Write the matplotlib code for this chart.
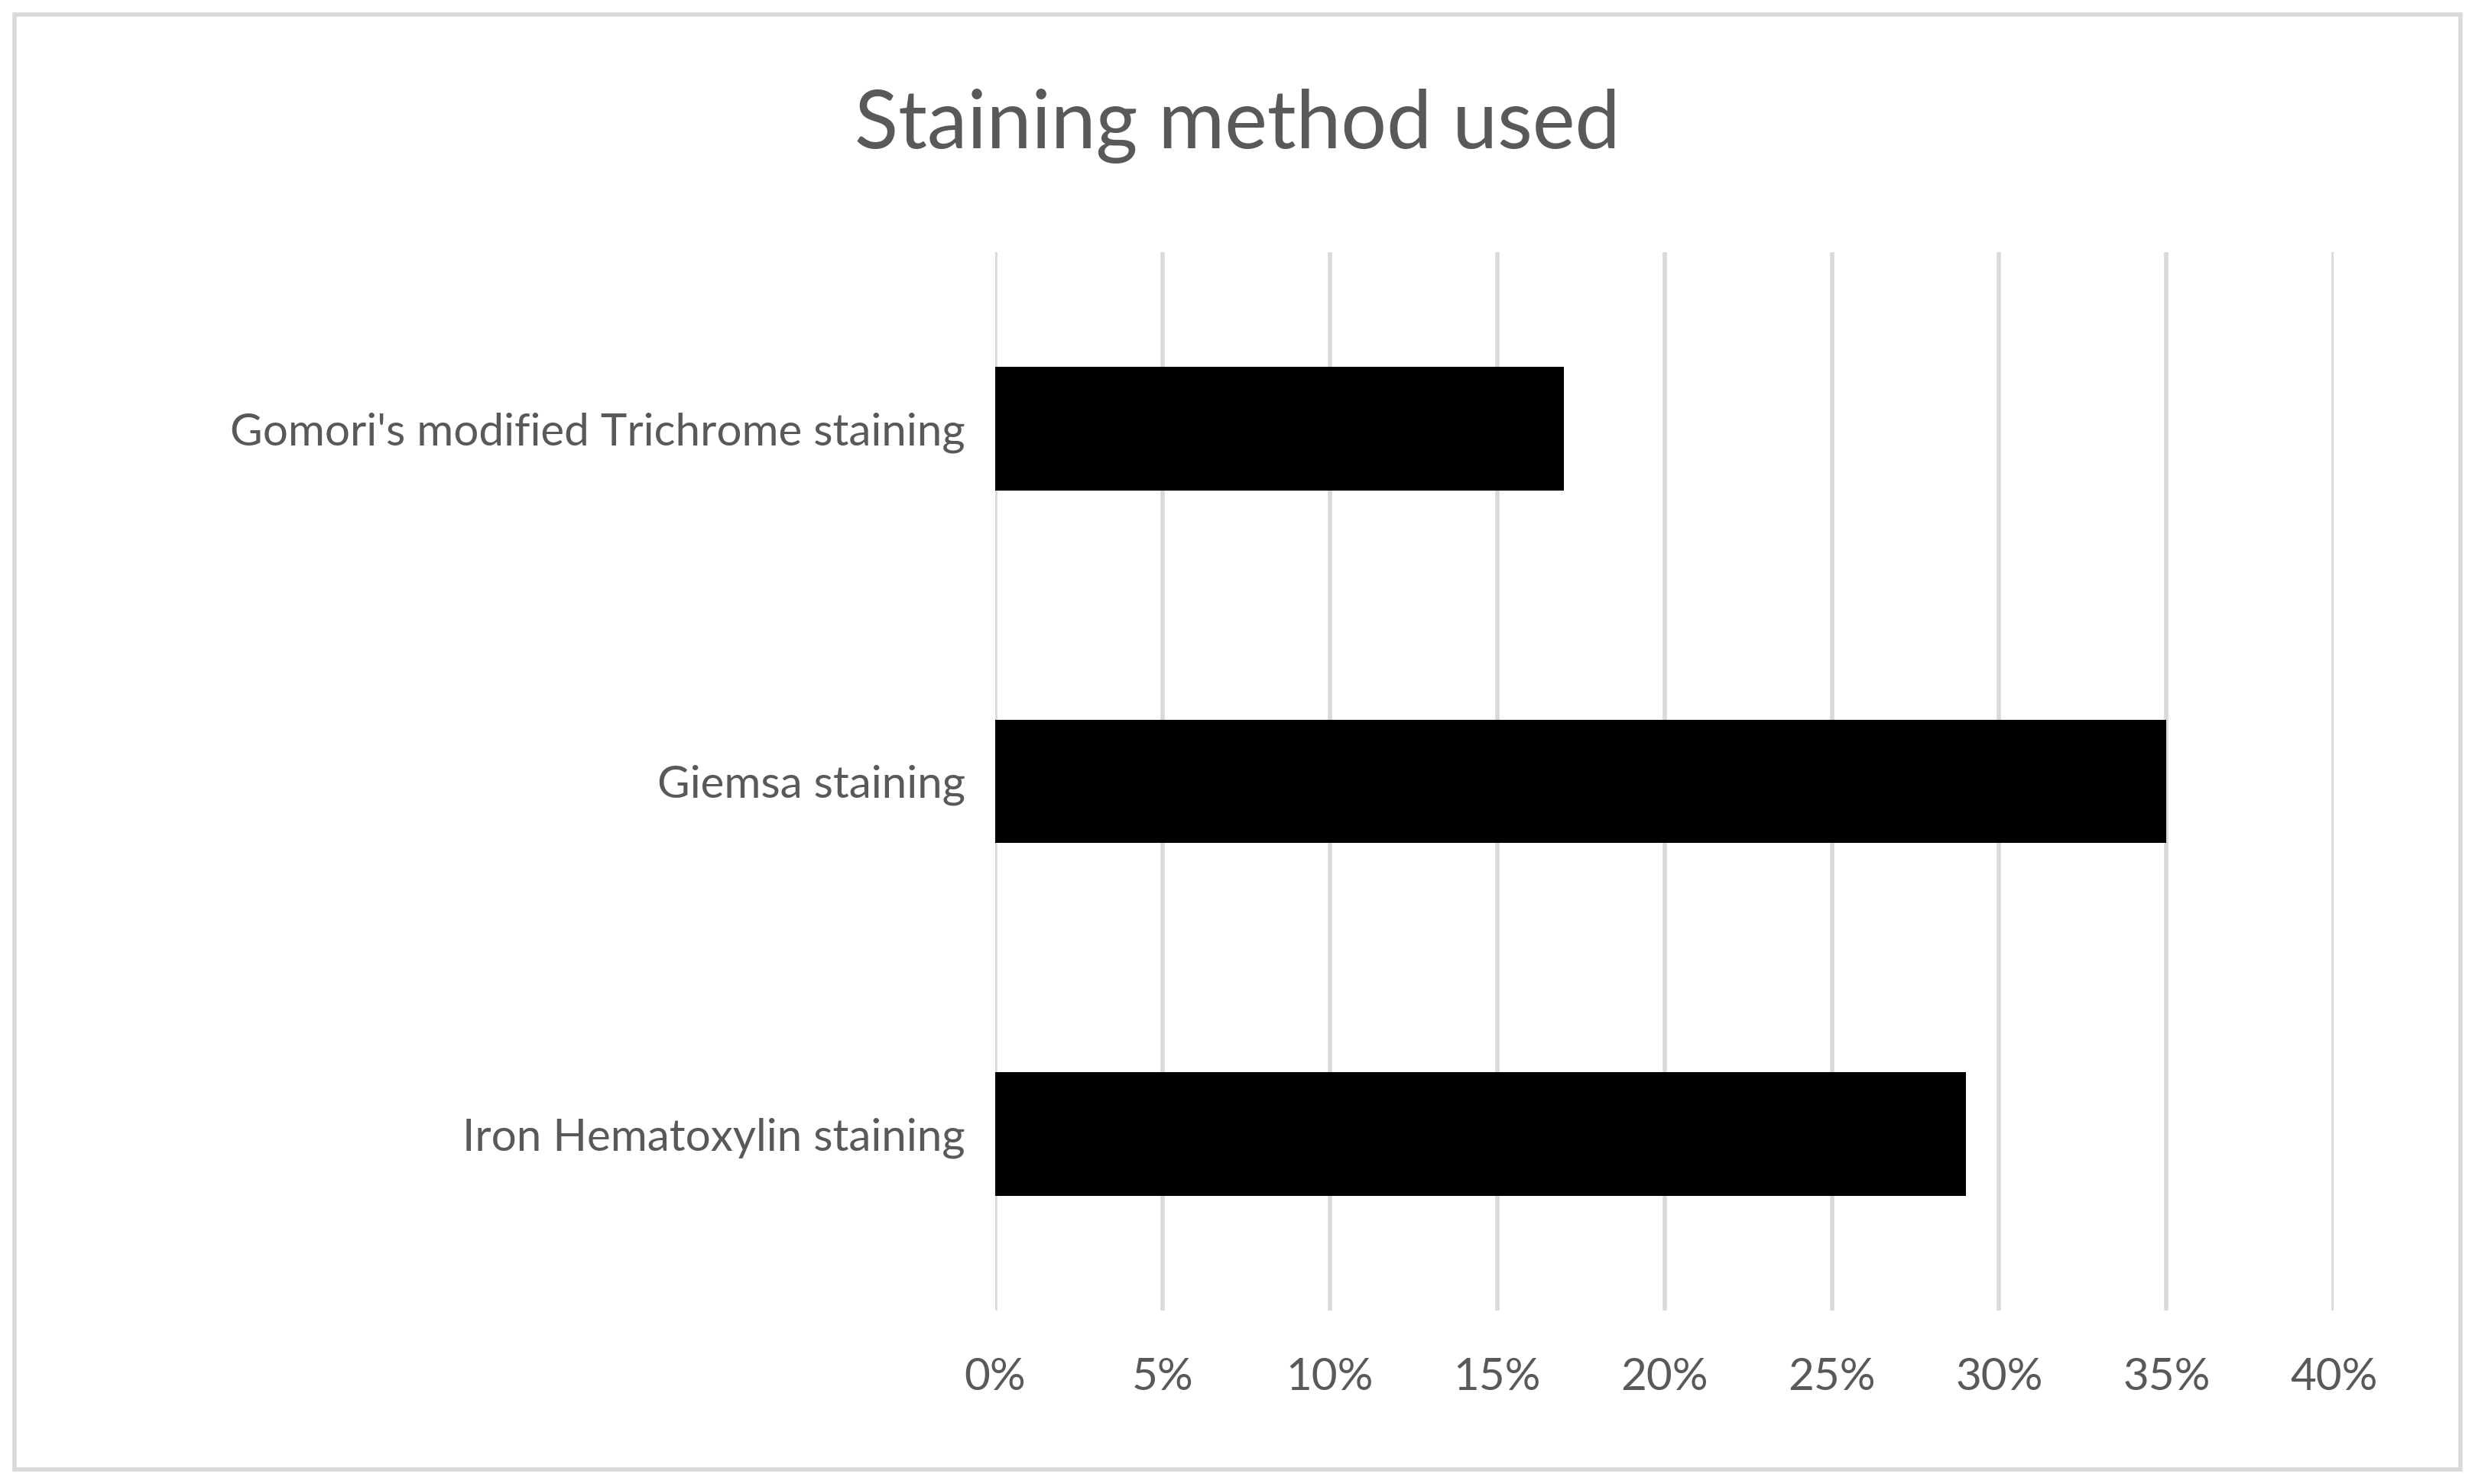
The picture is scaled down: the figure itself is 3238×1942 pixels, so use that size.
import matplotlib
matplotlib.use("Agg")
import matplotlib.pyplot as plt
from matplotlib.patches import Rectangle
from matplotlib.ticker import PercentFormatter

categories = ["Iron Hematoxylin staining", "Giemsa staining", "Gomori's modified Trichrome staining"]
values = [29, 35, 17]
xticks = [0, 5, 10, 15, 20, 25, 30, 35, 40]

plt.rcParams['font.family'] = ['Lato', 'DejaVu Sans']
fig = plt.figure(figsize=(16.19, 9.71), dpi=200)
ax = fig.add_axes([0.402, 0.117, 0.541, 0.713])
ax.barh(range(len(categories)), values, height=0.35, color="black", zorder=3)
ax.set_ylim(-0.5, 2.5)
ax.set_xlim(0, 40)
ax.set_xticks(xticks)
ax.xaxis.set_major_formatter(PercentFormatter(decimals=0))
ax.set_yticks(range(len(categories)))
ax.set_yticklabels(categories)
ax.grid(axis="x", color="#d9d9d9", linewidth=2, zorder=0)
for s in ax.spines.values():
    s.set_visible(False)
ax.tick_params(length=0, labelsize=21, colors="#595959", pad=14)
ax.tick_params(axis="x", pad=22)
fig.text(0.5, 0.915, "Staining method used", ha="center", va="center", fontsize=38, color="#595959")
fig.patches.append(Rectangle((0.006, 0.01), 0.988, 0.98, transform=fig.transFigure,
                             fill=False, edgecolor="#d9d9d9", linewidth=2))
fig.savefig("out.png", dpi=200, facecolor="white")
